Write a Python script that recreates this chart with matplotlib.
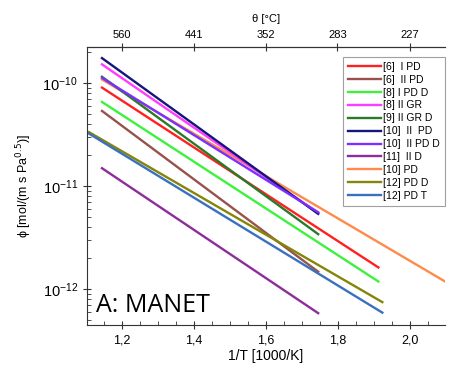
import matplotlib.pyplot as plt
from matplotlib.ticker import FixedLocator, FuncFormatter, LogLocator, MultipleLocator, NullFormatter

# Legend labels and colours, in legend order
labels = ["[6]  I PD", "[6]  II PD", "[8] I PD D", "[8] II GR", "[9] II GR D",
          "[10]  II  PD", "[10]  II PD D", "[11]  II D", "[10] PD", "[12] PD D", "[12] PD T"]
colors = ["#ff2020", "#97524c", "#3cf23c", "#ff3cff", "#2a7a2a",
          "#15157a", "#7a30ff", "#8e2c9c", "#ff8a4a", "#85850a", "#3a70c0"]

# 1/T [1000/K] start and end of each line
x_start = [1.145, 1.145, 1.145, 1.145, 1.145, 1.145, 1.145, 1.145, 1.145, 1.109, 1.109]
x_end = [1.912, 1.745, 1.912, 1.745, 1.745, 1.745, 1.745, 1.745, 2.097, 1.923, 1.923]

# permeability at the start and end
phi_start = [9.1e-11, 5.4e-11, 6.6e-11, 1.53e-10, 1.16e-10,
             1.76e-10, 1.13e-10, 1.5e-11, 1.09e-10, 3.36e-11, 3.25e-11]
phi_end = [1.63e-12, 1.48e-12, 1.19e-12, 5.5e-12, 3.43e-12,
           5.4e-12, 5.6e-12, 5.86e-13, 1.19e-12, 7.5e-13, 5.93e-13]

# top axis temperatures in °C
theta_ticks = [560, 441, 352, 283, 227]

plt.rcParams["font.family"] = ["Liberation Sans", "DejaVu Sans"]

fig = plt.figure(figsize=(4.5, 3.77), dpi=100)
ax = fig.add_axes([0.193, 0.138, 0.796, 0.737])

for i in range(len(labels)):
    z = 1.5 if labels[i] == "[10] PD" else 2
    ax.plot([x_start[i], x_end[i]], [phi_start[i], phi_end[i]],
            color=colors[i], lw=1.7, label=labels[i], zorder=z)

ax.set_yscale("log")
ax.set_xlim(1.103, 2.097)
ax.set_ylim(4.5e-13, 2.25e-10)

ax.xaxis.set_major_locator(MultipleLocator(0.2))
ax.xaxis.set_minor_locator(MultipleLocator(0.05))
ax.xaxis.set_major_formatter(FuncFormatter(lambda v, p: f"{v:.1f}".replace(".", ",")))
ax.yaxis.set_major_locator(LogLocator(base=10, numticks=10))
ax.yaxis.set_minor_locator(LogLocator(base=10, subs=range(2, 10), numticks=10))
ax.yaxis.set_minor_formatter(NullFormatter())
ax.tick_params(which="major", direction="inout", length=6, labelsize=9, color="#333333")
ax.tick_params(axis="y", which="major", labelsize=10.5)
ax.tick_params(which="minor", direction="in", length=3, color="#333333")

ax.spines["right"].set_visible(False)
for s in ["left", "bottom", "top"]:
    ax.spines[s].set_color("#333333")

ax.set_xlabel("1/T [1000/K]", fontsize=10, labelpad=2)
ax.set_ylabel(r"ϕ [mol/(m s Pa$^{0.5}$)]", fontsize=9, labelpad=6)

# secondary axis with temperature
top = ax.twiny()
top.set_xlim(ax.get_xlim())
top.xaxis.set_major_locator(FixedLocator([1000 / (t + 273.15) for t in theta_ticks]))
top.set_xticklabels([str(t) for t in theta_ticks])
top.tick_params(direction="inout", length=6, labelsize=8, color="#333333", pad=2)
top.set_xlabel("θ [°C]", fontsize=8, labelpad=6)
top.yaxis.set_visible(False)
for s in ["left", "right", "bottom"]:
    top.spines[s].set_visible(False)
top.spines["top"].set_color("#333333")

ax.text(0.025, 0.045, "A: MANET", transform=ax.transAxes, fontsize=18,
        family=["Open Sans", "DejaVu Sans"])

leg = ax.legend(loc="upper right", bbox_to_anchor=(1.015, 0.985), fontsize=7.5,
                frameon=True, fancybox=False, edgecolor="#888888",
                handlelength=3.2, handletextpad=0.2, labelspacing=0.28,
                borderpad=0.5)
leg.get_frame().set_linewidth(0.8)

fig.savefig("out.png", dpi=100)
